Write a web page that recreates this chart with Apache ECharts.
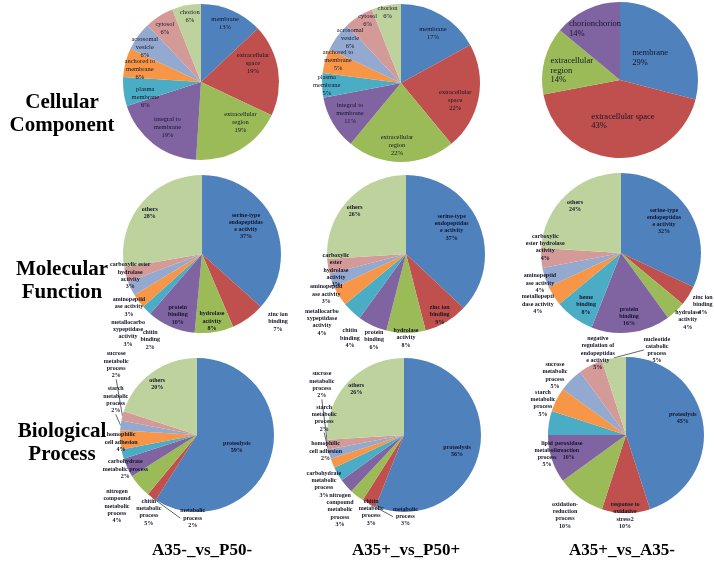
<!DOCTYPE html>
<html><head><meta charset="utf-8">
<script src="https://cdn.jsdelivr.net/npm/echarts@6/dist/echarts.min.js"></script>
<style>html,body{margin:0;padding:0;background:#fff}#c{width:714px;height:564px}</style>
</head><body><div id="c"></div>
<script>
// ---------- data ----------
const rowTitles = ['Cellular\nComponent', 'Molecular\nFunction', 'Biological\nProcess'];
const colTitles = ['A35-_vs_P50-', 'A35+_vs_P50+', 'A35+_vs_A35-'];

const ccNames = ['membrane', 'extracellular\nspace', 'extracellular\nregion', 'integral to\nmembrane', 'plasma\nmembrane', 'anchored to\nmembrane', 'acrosomal\nvesicle', 'cytosol', 'chorion'];
const cc1Values = [13, 19, 19, 19, 6, 6, 6, 6, 6];
const cc2Values = [17, 22, 22, 11, 5, 5, 6, 6, 6];
const cc3Names = ['membrane', 'extracellular space', 'extracellular\nregion', 'chorionchorion'];
const cc3Values = [29, 43, 14, 14];

const mf1Names = ['serine-type\nendopeptidas\ne activity', 'zinc ion\nbinding', 'hydrolase\nactivity', 'protein\nbinding', 'chitin\nbinding', 'metallocarbo\nxypeptidase\nactivity', 'aminopeptid\nase activity', 'carboxylic ester\nhydrolase\nactivity', 'others'];
const mf1Values = [37, 7, 8, 10, 2, 3, 3, 3, 28];
const mf2Names = ['serine-type\nendopeptidas\ne activity', 'zinc ion\nbinding', 'hydrolase\nactivity', 'protein\nbinding', 'chitin\nbinding', 'metallocarbo\nxypeptidase\nactivity', 'aminopeptid\nase activity', 'carboxylic\nester\nhydrolase\nactivity', 'others'];
const mf2Values = [37, 9, 8, 6, 4, 4, 3, 3, 26];
const mf3Names = ['serine-type\nendopeptidas\ne activity', 'zinc ion\nbinding', 'hydrolase\nactivity', 'protein\nbinding', 'heme\nbinding', 'metallopepti\ndase activity', 'aminopeptid\nase activity', 'carboxylic\nester hydrolase\nactivity', 'others'];
const mf3Values = [32, 4, 4, 16, 8, 4, 4, 4, 24];

const bp1Names = ['proteolysis', 'metabolic\nprocess', 'chitin\nmetabolic\nprocess', 'nitrogen\ncompound\nmetabolic\nprocess', 'carbohydrate\nmetabolic process', 'homophilic\ncell adhesion', 'starch\nmetabolic\nprocess', 'sucrose\nmetabolic\nprocess', 'others'];
const bp1Values = [59, 2, 5, 4, 2, 4, 2, 2, 20];
const bp2Names = ['proteolysis', 'metabolic\nprocess', 'chitin\nmetabolic\nprocess', 'nitrogen\ncompound\nmetabolic\nprocess', 'carbohydrate\nmetabolic\nprocess', 'homophilic\ncell adhesion', 'starch\nmetabolic\nprocess', 'sucrose\nmetabolic\nprocess', 'others'];
const bp2Values = [56, 3, 3, 3, 3, 2, 2, 2, 26];
const bp3Names = ['proteolysis', 'response to\noxidative\nstress2', 'oxidation-\nreduction\nprocess', 'peroxidase\nreaction', 'lipid\nmetabolic\nprocess', 'starch\nmetabolic\nprocess', 'sucrose\nmetabolic\nprocess', 'negative\nregulation of\nendopeptidas\ne activity', 'nucleotide\ncatabolic\nprocess'];
const bp3Values = [45, 10, 10, 10, 5, 5, 5, 5, 5];

// ---------- layout / style (kept apart from the data) ----------
const palette = ['#4F81BD', '#C0504D', '#9BBB59', '#8064A2', '#4BACC6', '#F79646', '#93A9CF', '#D49A98', '#BDD29C'];
const serif = 'Liberation Serif';

// label placement per slice: [radius factor, angle offset from slice middle in degrees]
const pies = [
  {names: ccNames, values: cc1Values, center: [201, 82], r: 78, font: 6.5, lh: 8, bold: false, lines: [],
   pos: [[.81, -1], [.71, -11], [.72, -14], [.72, -1], [.74, -8], [.8, -3], [.85, -4], [.83, -1.6], [.85, 1]]},
  {names: ccNames, values: cc2Values, center: [401, 83], r: 79, font: 6.5, lh: 8, bold: false, lines: [],
   pos: [[.75, 2], [.72, 6.7], [.79, 3.7], [.75, 0], [.94, 0], [.85, 4], [.86, 5.4], [.9, 4.4], [.91, 0]]},
  {names: cc3Names, values: cc3Values, center: [620, 80], r: 78, font: 8.5, lh: 9.5, bold: false, lines: [], leftAlign: true,
   pos: [[.48, 1.5], [.53, -5.8], [.63, -3.4], [.73, -.8]]},
  {names: mf1Names, values: mf1Values, center: [202, 254], r: 79, font: 6, lh: 7.3, bold: true, lines: [],
   pos: [[.66, -8.5], [1.29, -12.6], [.86, .5], [.83, -1.5], [1.27, -13.5], [1.37, -10.4], [1.14, -10], [.95, -1.8], [.84, -2]]},
  {names: mf2Names, values: mf2Values, center: [406, 254], r: 79, font: 6, lh: 7.3, bold: true, lines: [],
   pos: [[.67, -7], [.88, 1.6], [1.06, 0], [1.16, -4.8], [1.28, -9.5], [1.37, -6.6], [1.13, -6.8], [.91, -4], [.85, -3]]},
  {names: mf3Names, values: mf3Values, center: [621, 253], r: 80, font: 6, lh: 7.3, bold: true, lines: [],
   pos: [[.67, -4.3], [1.21, 0], [1.18, -1.8], [.8, 0], [.78, -2], [1.22, .8], [1.08, -2.3], [.95, 8], [.82, -1.2]]},
  {names: bp1Names, values: bp1Values, center: [197, 435], r: 77, font: 6, lh: 7.3, bold: true, lines: [1, 6, 7],
   pos: [[.54, .5], [1.08, -33], [1.18, -16.6], [1.39, -16.4], [1.03, -11], [.99, -1.7], [1.15, 16.2], [1.39, 26.6], [.84, -2]]},
  {names: bp2Names, values: bp2Values, center: [404, 435], r: 77, font: 6, lh: 7.3, bold: true, lines: [1, 6, 7],
   pos: [[.72, 6], [1.06, -28], [1.09, -14.8], [1.28, -8.1], [1.22, -.9], [1.04, 10], [1.06, 26.4], [1.25, 38.6], [.86, .6]]},
  {names: bp3Names, values: bp3Values, center: [626, 435], r: 78, font: 6, lh: 7.3, bold: true, lines: [8],
   pos: [[.76, -7.6], [1.03, .7], [1.29, 1.3], [.76, 3], [1.04, -22.5], [1.14, -6], [1.19, -5], [1.11, 8], [1.16, 29]]}
];

function pieSeries(p) {
  const total = p.values.reduce((a, b) => a + b, 0);
  const mids = [];
  let acc = 0;
  p.values.forEach(v => { mids.push((acc + v / 2) / total * 360); acc += v; });
  return {
    type: 'pie', center: p.center, radius: p.r, startAngle: 90, clockwise: true, silent: true,
    animation: false, avoidLabelOverlap: false,
    itemStyle: {borderWidth: 0},
    label: {show: true, position: 'outside', alignTo: 'none', overflow: 'none', formatter: '{b}\n{c}%',
      fontSize: p.font, lineHeight: p.lh, fontFamily: serif, fontWeight: p.bold ? 'bold' : 'normal',
      color: '#15152a', textBorderWidth: 0},
    labelLine: {show: false, length: 4, length2: 0, smooth: false, lineStyle: {color: '#222', width: 0.7}},
    labelLayout: params => {
      const i = params.dataIndex;
      const k = p.pos[i][0], dt = p.pos[i][1];
      const th = (mids[i] + dt) * Math.PI / 180;
      const x = p.center[0] + k * p.r * Math.sin(th);
      const y = p.center[1] - k * p.r * Math.cos(th);
      if (p.leftAlign) return {x: x - params.labelRect.width / 2, y: y, align: 'left', verticalAlign: 'middle'};
      return {x: x, y: y, align: 'center', verticalAlign: 'middle'};
    },
    data: p.names.map((n, i) => ({
      name: n, value: p.values[i], itemStyle: {color: palette[i]},
      labelLine: {show: p.lines.indexOf(i) >= 0}
    }))
  };
}

const series = pies.map(pieSeries);

const graphics = [];
const rowY = [114, 281, 443];
rowTitles.forEach((t, i) => graphics.push({type: 'text', x: 62, y: rowY[i],
  style: {text: t, font: 'bold 21px "Liberation Serif"', fill: '#000', align: 'center', verticalAlign: 'middle', lineHeight: 23}}));
const colX = [202, 406, 622];
colTitles.forEach((t, i) => graphics.push({type: 'text', x: colX[i], y: 551,
  style: {text: t, font: 'bold 17px "Liberation Serif"', fill: '#000', align: 'center', verticalAlign: 'middle'}}));

const chart = echarts.init(document.getElementById('c'), null, {renderer: 'canvas'});
chart.setOption({backgroundColor: '#fff', animation: false, series: series, graphic: graphics});
</script></body></html>
